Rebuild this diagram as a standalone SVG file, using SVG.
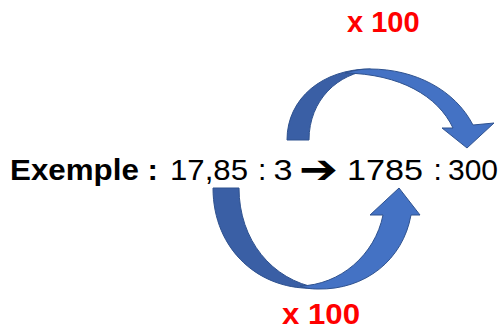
<svg xmlns="http://www.w3.org/2000/svg" width="502" height="330" viewBox="0 0 502 330">
<style>
.dark{fill:#3A5FA5;stroke:#2F528F;stroke-width:1;stroke-linejoin:round}
.light{fill:#4472C4;stroke:#2F528F;stroke-width:1;stroke-linejoin:round}
.main{font-family:"Liberation Sans",Arial,sans-serif;font-size:30px;fill:#000}
.red{font-family:"Liberation Sans",Arial,sans-serif;font-weight:bold;fill:#FF0000}
</style>
<rect width="502" height="330" fill="#fff"/>
<g id="connectors">
<g id="arrow-top">
<path class="dark" d="M287,140 C287,98 323,69 370,69 L372,70 C338,73 309,100 309,140 Z"/>
<path class="light" d="M345,73 C355,70 362,69 370,69 C415,69 455,90 473,125 L494,123 L467,148 L442,128 L453,128 C438,96 400,74 345,73 Z"/>
</g>
<g id="arrow-bottom">
<path class="dark" d="M213,188 L239,188 C239,240 272,280 318,288 C260,292 213,250 213,188 Z"/>
<path class="light" d="M300,286 C340,285 375,255 383,215 L370,215 L399,188 L420,215 L411,215 C403,260 365,290 318,289 C310,289 305,288 300,286 Z"/>
</g>
</g>
<g id="label-top"><text class="red" x="347" y="32" font-size="29">x 100</text></g>
<g id="label-bottom"><text class="red" x="282" y="324" font-size="30" textLength="78" lengthAdjust="spacingAndGlyphs">x 100</text></g>
<g id="example">
<text class="main" y="180"><tspan x="10" font-weight="bold" textLength="148" lengthAdjust="spacingAndGlyphs">Exemple :</tspan><tspan x="170" textLength="78" lengthAdjust="spacingAndGlyphs">17,85</tspan><tspan x="258">:</tspan><tspan x="273.5" textLength="19" lengthAdjust="spacingAndGlyphs">3</tspan><tspan x="299" y="183" font-family="DejaVu Sans, sans-serif" font-weight="bold" font-size="40" textLength="39" lengthAdjust="spacingAndGlyphs">➔</tspan><tspan x="347" y="180" textLength="76" lengthAdjust="spacingAndGlyphs">1785</tspan><tspan x="433.5">:</tspan><tspan x="448" textLength="50" lengthAdjust="spacingAndGlyphs">300</tspan></text>
</g>
</svg>
